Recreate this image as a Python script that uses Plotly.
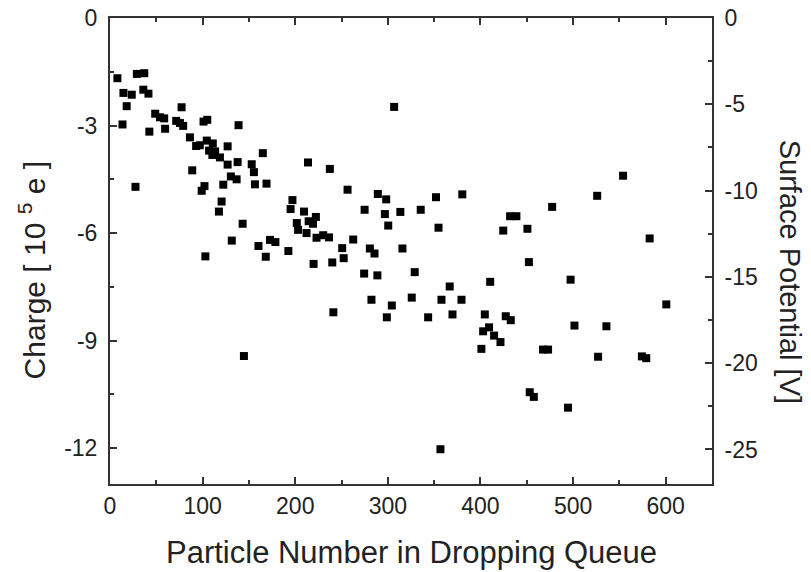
import plotly.graph_objects as go

particle_number = [
    8, 13.5, 14.5, 18, 23.5, 27.5, 29, 37, 36, 41.5,
    42.5, 48.8, 54, 58.5, 59.5, 71.5, 75.5, 77.3, 79, 86.3,
    88.8, 93, 97, 101, 105, 99, 102, 103, 104.5, 107,
    110.5, 111, 113.5, 118.7, 117.6, 120.5, 122.3, 127, 127, 130.5,
    131.5, 136.7, 137.8, 138.8, 143.2, 144.6, 153, 155.4, 156.5, 160.3,
    165, 169, 168.2, 172.8, 178.6, 192.6, 195, 197, 201.7, 203.1,
    209.5, 212.2, 213.8, 214.5, 219.2, 222.3, 223, 219.8, 230.2, 236.5,
    237.4, 240, 241.2, 250.7, 252.3, 256.5, 262.6, 274.9, 274.4, 280.6,
    285.6, 288.7, 289.2, 282.3, 298.2, 296.8, 300.4, 304.3, 298.9, 306.8,
    313.5, 315.8, 325.8, 329, 335.5, 343.5, 352, 354.7, 356.8, 357.9,
    366.8, 369.8, 379.5, 380.4, 401, 402.9, 404.7, 409.3, 410.5, 414.7,
    421.6, 424.6, 427.3, 432.7, 432, 438.8, 450.7, 452.3, 453.2, 457.6,
    467.6, 473, 477.4, 494.5, 497.3, 501.5, 526, 527, 536, 554,
    574.3, 579, 582.7, 600.7,
]
charge_1e5 = [
    -1.68, -2.97, -2.09, -2.46, -2.14, -4.71, -1.56, -1.54, -2.0, -2.11,
    -3.17, -2.67, -2.77, -2.8, -3.09, -2.87, -2.93, -2.49, -3.01, -3.33,
    -4.25, -3.57, -3.55, -2.89, -2.84, -4.82, -4.69, -6.65, -3.42, -3.7,
    -3.82, -3.5, -3.72, -3.89, -5.4, -5.12, -4.65, -3.58, -4.09, -4.42,
    -6.21, -4.5, -4.02, -2.99, -5.74, -9.43, -4.08, -4.3, -4.64, -6.36,
    -3.77, -4.62, -6.66, -6.19, -6.25, -6.5, -5.33, -5.08, -5.72, -5.91,
    -5.4, -6.0, -4.03, -5.67, -5.74, -5.55, -6.13, -6.86, -6.06, -6.12,
    -4.21, -6.82, -8.21, -6.42, -6.7, -4.79, -6.18, -5.35, -7.13, -6.43,
    -6.57, -7.18, -4.91, -7.86, -5.06, -5.47, -5.79, -8.02, -8.35, -2.48,
    -5.41, -6.43, -7.8, -7.09, -5.35, -8.35, -5.0, -5.85, -12.03, -7.86,
    -7.49, -8.27, -7.86, -4.92, -9.23, -8.74, -8.27, -8.63, -7.36, -8.86,
    -9.04, -5.93, -8.32, -8.43, -5.53, -5.53, -5.88, -6.81, -10.44, -10.57,
    -9.25, -9.25, -5.27, -10.87, -7.3, -8.58, -4.96, -9.45, -8.6, -4.4,
    -9.44, -9.49, -6.15, -7.99,
]

x_ticks = [0, 100, 200, 300, 400, 500, 600]
x_tick_labels = ["0", "100", "200", "300", "400", "500", "600"]
charge_ticks = [0, -3, -6, -9, -12]
charge_tick_labels = ["0", "-3", "-6", "-9", "-12"]
potential_ticks = [0, -5, -10, -15, -20, -25]
potential_tick_labels = ["0", "-5", "-10", "-15", "-20", "-25"]
x_range = [0, 650]
charge_range = [-13, 0]
potential_range = [-27, 0]

FONT = "Liberation Sans, Arial, sans-serif"
TXT = "#222222"
LINE = "#333333"

fig = go.Figure()
fig.add_trace(go.Scatter(
    x=particle_number, y=charge_1e5, mode="markers",
    marker=dict(symbol="square", size=8, color="black"),
    showlegend=False, hoverinfo="x+y",
))
fig.add_trace(go.Scatter(x=[], y=[], yaxis="y2", showlegend=False))

axis_common = dict(
    showgrid=False, zeroline=False, showline=True, linecolor=LINE, linewidth=2,
    ticks="inside", ticklen=7, tickwidth=1.5, tickcolor=LINE, automargin=False,
    ticklabeloverflow="allow",
    tickfont=dict(family=FONT, size=23, color=TXT),
)

fig.update_layout(
    width=811, height=572,
    margin=dict(l=110, r=99, t=18, b=88),
    paper_bgcolor="white", plot_bgcolor="white",
    xaxis=dict(
        range=x_range, tickvals=x_ticks, ticktext=x_tick_labels, mirror="ticks",
        minor=dict(dtick=50, ticklen=4, tickwidth=1.5, tickcolor=LINE, ticks="inside"),
        ticklabelstandoff=0,
        **axis_common,
    ),
    yaxis=dict(
        range=charge_range, tickvals=charge_ticks, ticktext=charge_tick_labels,
        minor=dict(dtick=1.5, tick0=0, ticklen=4, tickwidth=1.5, tickcolor=LINE, ticks="inside"),
        ticklabelstandoff=6,
        **axis_common,
    ),
    yaxis2=dict(
        range=potential_range, tickvals=potential_ticks, ticktext=potential_tick_labels,
        overlaying="y", side="right",
        minor=dict(dtick=2.5, tick0=0, ticklen=4, tickwidth=1.5, tickcolor=LINE, ticks="inside"),
        ticklabelstandoff=6,
        **axis_common,
    ),
    annotations=[
        dict(text="Particle Number in Dropping Queue", xref="paper", yref="paper",
             x=0.5, y=-0.146, xanchor="center", yanchor="middle", showarrow=False,
             font=dict(family=FONT, size=31, color=TXT)),
        dict(text="Charge [ 10 <sup>5</sup> e ]", xref="paper", yref="paper",
             x=-0.13, y=0.46, xanchor="center", yanchor="middle", showarrow=False,
             textangle=-90, font=dict(family=FONT, size=30, color=TXT)),
        dict(text="Surface Potential [V]", xref="paper", yref="paper",
             x=1.13, y=0.455, xanchor="center", yanchor="middle", showarrow=False,
             textangle=90, font=dict(family=FONT, size=29, color=TXT)),
    ],
)

fig.write_html(
    "out.html",
    config={"displayModeBar": False},
    post_script="document.body.style.margin='0';document.body.style.overflow='hidden';",
)
